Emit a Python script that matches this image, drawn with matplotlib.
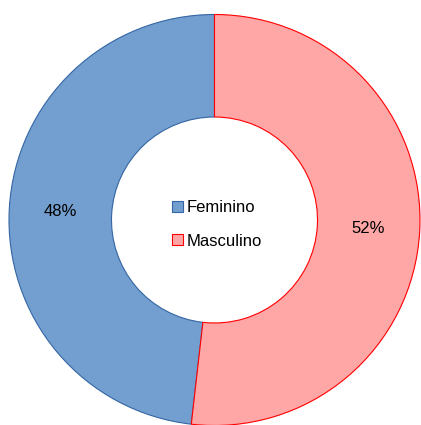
import matplotlib
matplotlib.use("Agg")
from matplotlib import pyplot as plt

categories = ["Feminino", "Masculino"]
values = [48.2, 51.8]
colors = ["#729fcf", "#ffa6a6"]
edges = ["#3465a4", "#ff0000"]

plt.rcParams['font.family'] = ['Liberation Sans', 'DejaVu Sans']

fig = plt.figure(figsize=(4.21, 4.25), dpi=100)
ax = fig.add_axes([0, 0, 1, 1])

wedges, texts, autotexts = ax.pie(values, colors=colors, startangle=90, counterclock=True,
                                  center=(214.5, 205), radius=205.5, autopct='%.0f%%', pctdistance=0.75,
                                  wedgeprops=dict(width=102.5, linewidth=0.8),
                                  textprops=dict(fontsize=12, color='black'), frame=True)
for w, e in zip(wedges, edges):
    w.set_edgecolor(e)
ax.set_xlim(0, 421)
ax.set_ylim(0, 425)
ax.set_aspect('equal')
ax.axis('off')

leg = ax.legend(wedges, categories, loc='center', bbox_to_anchor=(217, 200.5), bbox_transform=ax.transData,
                frameon=False, fontsize=12, handlelength=0.66, handleheight=0.66,
                handletextpad=0.25, labelspacing=1.1, borderpad=0)

fig.savefig("out.png", dpi=100)
